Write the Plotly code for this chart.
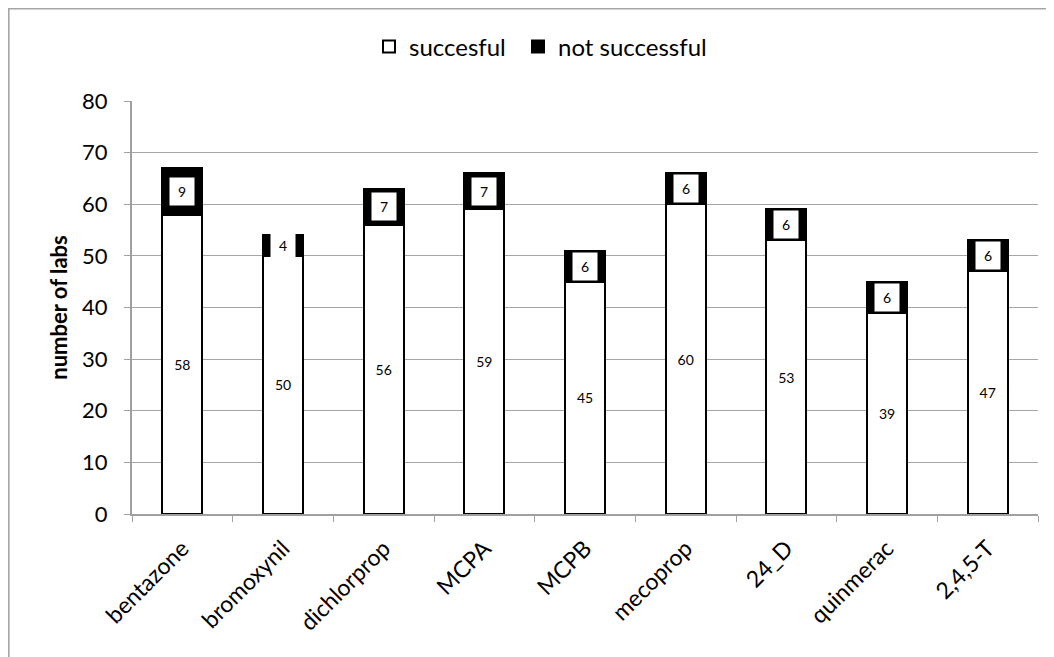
import plotly.graph_objects as go

categories = ["bentazone", "bromoxynil", "dichlorprop", "MCPA", "MCPB",
              "mecoprop", "24_D", "quinmerac", "2,4,5-T"]
successful = [58, 50, 56, 59, 45, 60, 53, 39, 47]
not_successful = [9, 4, 7, 7, 6, 6, 6, 6, 6]

FONT = "Lato, 'Open Sans', sans-serif"

# figure pixel geometry (page is offset by the 8px body margin)
FW, FH = 1046, 649
L, R, T, B = 124, 1030, 93, 506
pw, ph = R - L, B - T

fig = go.Figure()
fig.add_trace(go.Bar(
    x=categories, y=successful, name="succesful", legend="legend",
    marker=dict(color="white", line=dict(color="black", width=2)),
    width=0.4,
    text=[str(v) for v in successful], textposition="inside",
    insidetextanchor="middle", textangle=0,
    textfont=dict(color="black", size=14, family=FONT),
))
fig.add_trace(go.Bar(
    x=categories, y=not_successful, name="not successful", legend="legend2",
    marker=dict(color="black", line=dict(color="black", width=2)),
    width=0.4,
))

for c, s, f in zip(categories, successful, not_successful):
    fig.add_annotation(
        x=c, y=s + f / 2, text=str(f), showarrow=False,
        bgcolor="white", width=24, height=27, borderpad=0,
        font=dict(color="black", size=14, family=FONT),
    )

# outer chart border
fig.add_shape(type="rect", xref="paper", yref="paper",
              x0=(0.8 - L) / pw, x1=(FW + 20 - L) / pw,
              y0=(B - FH - 20) / ph, y1=(B - 0.8) / ph,
              line=dict(color="#a6a6a6", width=1.6), fillcolor="rgba(0,0,0,0)",
              layer="below")

leg_common = dict(orientation="h", xref="container", yref="container",
                  xanchor="left", y=1 - 39 / FH, yanchor="middle",
                  font=dict(size=24, family=FONT), itemwidth=30,
                  bgcolor="rgba(0,0,0,0)")

fig.update_layout(
    template="none",
    width=FW, height=FH,
    margin=dict(l=L, r=FW - R, t=T, b=FH - B, pad=0),
    barmode="stack",
    plot_bgcolor="white", paper_bgcolor="white",
    font=dict(family=FONT, color="black"),
    showlegend=True,
    legend=dict(x=(373 - 12) / FW, **leg_common),
    legend2=dict(x=(522 - 12) / FW, **leg_common),
    xaxis=dict(
        automargin=False,
        showline=True, linecolor="#a0a0a0", linewidth=2,
        ticks="outside", tickson="boundaries", ticklen=6, tickcolor="#a0a0a0",
        tickwidth=1, ticklabelstandoff=10,
        tickangle=-45, tickfont=dict(size=23, family=FONT),
        showgrid=False, zeroline=False,
    ),
    yaxis=dict(
        automargin=False,
        range=[0, 80], dtick=10,
        showline=True, linecolor="#a0a0a0", linewidth=2,
        ticks="outside", ticklen=6, tickcolor="#a0a0a0", tickwidth=1,
        tickfont=dict(size=22, family=FONT), ticklabelstandoff=12,
        showgrid=True, gridcolor="#a6a6a6", gridwidth=1,
        zeroline=False,
        title=dict(text="<b>number of labs</b>", font=dict(size=22, family=FONT),
                   standoff=8),
    ),
)

fig.write_html("out.html")
